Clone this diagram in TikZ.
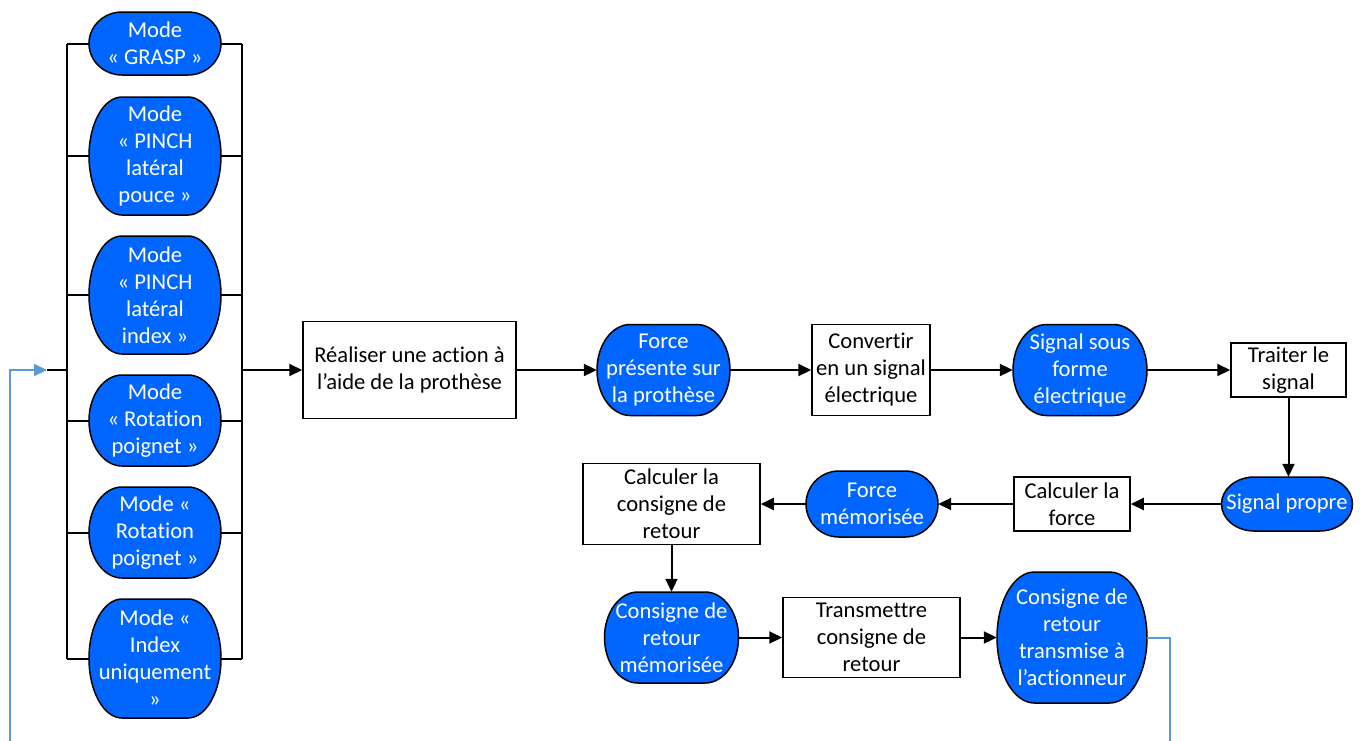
\documentclass[tikz,border=0pt]{standalone}
\usepackage{fontspec}
\setmainfont{Carlito}[Ligatures={NoCommon}]
\usetikzlibrary{arrows.meta,calc}
\definecolor{termblue}{RGB}{0,102,255}
\definecolor{linkblue}{RGB}{91,155,213}
\tikzset{
  txt/.style={align=center,inner sep=0pt,font=\fontsize{22.6}{27}\selectfont},
  termshape/.style={fill=termblue,draw=black,line width=1.5pt},
  termtext/.style={txt,text=white,draw=none},
  boxnode/.style={txt,draw=black,fill=white,line width=1.5pt},
  link/.style={draw=black,line width=2pt},
  arr/.style={link,-{Triangle[length=13pt,width=12pt]}},
  fb/.style={draw=linkblue,line width=2pt},
  fbarr/.style={fb,-{Triangle[length=13pt,width=12pt]}}
}
\newcommand\mkterm[6]{%
  \pgfmathsetmacro\tRx{0.25*#4}%
  \pgfmathsetmacro\tRy{#5/2}%
  \pgfmathsetmacro\tXl{#2-#4/2+\tRx}%
  \pgfmathsetmacro\tXr{#2+#4/2-\tRx}%
  \pgfmathsetmacro\tYt{#3-#5/2}%
  \pgfmathsetmacro\tYb{#3+#5/2}%
  \filldraw[termshape] (\tXl,\tYt) -- (\tXr,\tYt)
    arc[start angle=90,end angle=-90,x radius=\tRx pt,y radius=\tRy pt]
    -- (\tXl,\tYb)
    arc[start angle=270,end angle=90,x radius=\tRx pt,y radius=\tRy pt] -- cycle;
  \node[termtext,minimum width=#4pt,minimum height=#5pt] (#1) at (#2,#3) {#6};
}
\begin{document}
\begin{tikzpicture}[x=1pt,y=-1pt]
\useasboundingbox (0,0) rectangle (1368,740);

% mode column
\mkterm{m1}{155}{43.5}{132}{63}{Mode\\« GRASP »}
\mkterm{m2}{155}{156}{132}{118}{Mode\\« PINCH\\latéral\\pouce »}
\mkterm{m3}{155}{295}{132}{118}{Mode\\« PINCH\\latéral\\index »}
\mkterm{m4}{155}{420.5}{132}{91}{Mode\\« Rotation\\poignet »}
\mkterm{m5}{155}{532.5}{132}{91}{Mode «\\Rotation\\poignet »}
\mkterm{m6}{155}{658.5}{132}{119}{Mode «\\Index\\uniquement\\»}

\coordinate (L1) at (67,43.5);
\coordinate (L6) at (67,658.5);
\coordinate (R1) at (242,43.5);
\coordinate (R6) at (242,658.5);
\coordinate (Lin) at (67,370);
\coordinate (Rout) at (242,370);
\draw[link] (L1) -- (L6);
\draw[link] (R1) -- (R6);
\foreach \m in {m1,m2,m3,m4,m5,m6}{
  \draw[link] (\m.west) -- (\m.west -| L1);
  \draw[link] (\m.east) -- (\m.east -| R1);
}

% main row
\node[boxnode,minimum width=213pt,minimum height=97pt] (realiser) at (409.5,370) {Réaliser une action à\\l’aide de la prothèse};
\mkterm{force}{663.5}{370}{133}{91}{Force\\présente sur\\la prothèse}
\node[boxnode,minimum width=118pt,minimum height=91pt] (convertir) at (871,370) {Convertir\\en un signal\\électrique};
\mkterm{signal}{1080}{370}{134}{91}{Signal sous\\forme\\électrique}
\node[boxnode,minimum width=115pt,minimum height=54pt] (traiter) at (1288.5,370) {Traiter le\\signal};

% second row
\mkterm{propre}{1287}{504}{131}{54}{Signal propre}
\node[boxnode,minimum width=116pt,minimum height=54pt] (calcforce) at (1072,504) {Calculer la\\force};
\mkterm{forcemem}{872}{504}{132}{66}{Force\\mémorisée}
\node[boxnode,minimum width=177pt,minimum height=81pt] (calccons) at (671.5,504) {Calculer la\\consigne de\\retour};

% third row
\mkterm{consmem}{671.5}{637.5}{134}{91}{Consigne de\\retour\\mémorisée}
\node[boxnode,minimum width=177pt,minimum height=80pt] (transm) at (871.5,637.5) {Transmettre\\consigne de\\retour};
\mkterm{constr}{1072}{637.5}{150}{131}{Consigne de\\retour\\transmise à\\l’actionneur}

% connectors
\draw[arr] (Rout) -- (realiser.west);
\draw[arr] (realiser.east) -- (force.west);
\draw[arr] (force.east) -- (convertir.west);
\draw[arr] (convertir.east) -- (signal.west);
\draw[arr] (signal.east) -- (traiter.west);
\draw[arr] (traiter.south) -- (traiter.south |- propre.north);
\draw[arr] (propre.west) -- (calcforce.east);
\draw[arr] (calcforce.west) -- (forcemem.east);
\draw[arr] (forcemem.west) -- (calccons.east);
\draw[arr] (calccons.south) -- (calccons.south |- consmem.north);
\draw[arr] (consmem.east) -- (transm.west);
\draw[arr] (transm.east) -- (constr.west);

% feedback
\coordinate (fbA) at (1170,637.5);
\coordinate (fbB) at (1170,745);
\coordinate (fbC) at (10,745);
\coordinate (fbD) at (10,370);
\coordinate (fbE) at (47,370);
\draw[fb] (constr.east) -- (fbA) -- (fbB);
\draw[link] (fbE) -- (Lin);
\draw[fbarr] (fbC) -- (fbD) -- (fbE);
\end{tikzpicture}
\end{document}
